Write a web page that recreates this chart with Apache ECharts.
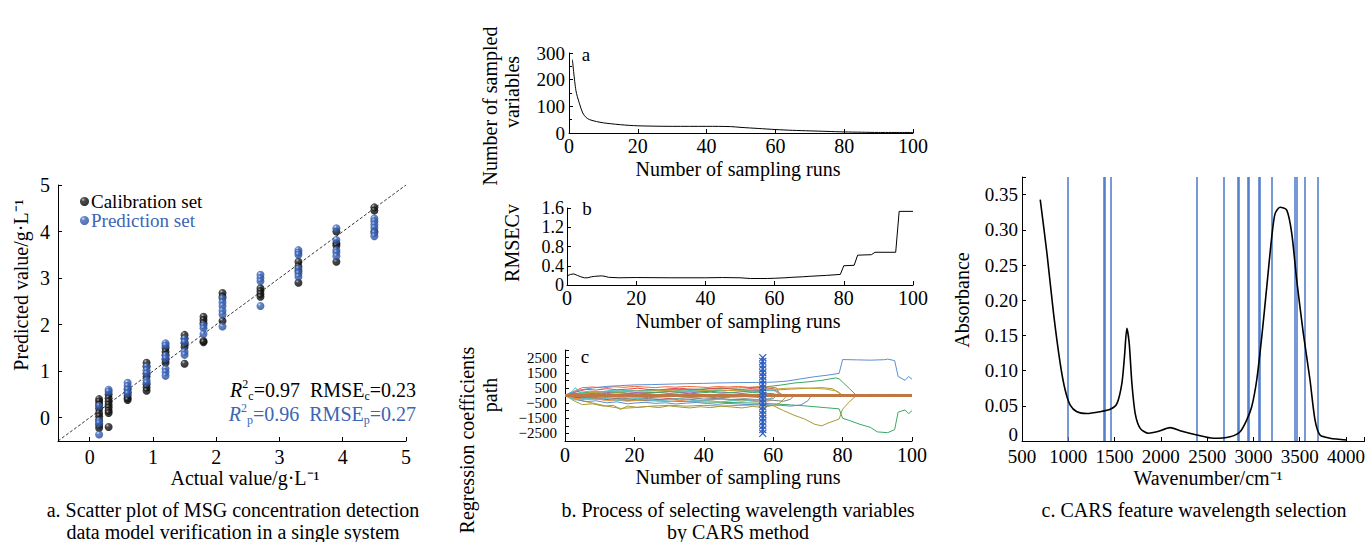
<!DOCTYPE html>
<html><head><meta charset="utf-8">
<script src="https://cdn.jsdelivr.net/npm/echarts@6.0.0/dist/echarts.min.js"></script>
<style>html,body{margin:0;padding:0;background:#fff}#c{width:1368px;height:542px}</style>
</head><body><div id="c"></div>
<script>
// ---------- Panel a: scatter ----------
const A_COLS = [0.15, 0.3, 0.6, 0.9, 1.2, 1.5, 1.8, 2.1, 2.7, 3.3, 3.9, 4.5];
const CAL_Y = [
  [0.40,0.35,0.28,0.20,0.10,0.03,-0.05,-0.15,-0.22],
  [0.50,0.42,0.35,0.28,0.22,0.15,0.10,-0.20],
  [0.62,0.55,0.48,0.42,0.38],
  [1.18,1.10,0.95,0.88,0.72,0.65,0.58],
  [1.50,1.42,1.35,1.25,1.18],
  [1.78,1.70,1.60,1.52,1.16],
  [2.17,2.10,2.03,1.65,1.62],
  [2.68,2.60,2.08],
  [2.78,2.72,2.66,2.60],
  [3.35,3.25,3.15,2.90],
  [4.00,3.75,3.70,3.35],
  [4.52,4.45,4.00]
];
const PRED_Y = [
  [0.25,-0.07,-0.12,-0.36],
  [0.60,0.56],
  [0.75,0.68,0.60,0.52],
  [1.10,1.02,0.95,0.80,0.75],
  [1.60,1.55,1.33,1.27,1.05,0.98,0.90],
  [1.70,1.62,1.42,1.35],
  [1.98,1.92,1.80],
  [2.56,2.48,2.40,2.30,2.22,1.96],
  [3.07,3.00,2.93,2.40],
  [3.60,3.55,3.50,3.20,3.10,3.03],
  [4.07,3.82,3.60,3.55,3.47],
  [4.28,4.22,4.15,4.08,3.97,3.90]
];
const DIAG = [[-0.5,-0.5],[5,5]];

// ---------- Panel b (top): number of sampled variables ----------
const B1_RUNS = [1,2,3,4,5,6,8,10,12,15,20,30,40,47,50,55,60,65,70,75,80,85,90,100];
const B1_VARS = [275,160,112,75,58,50,43,38,35,31,27,25,25,24,21,17,13,10,8,6,4,3,2,2];

// ---------- Panel b (middle): RMSECV ----------
const B2_RUNS = [0,1,2,3,4,5,6,7,8,10,11,12,15,20,30,40,45,50,53,58,60,63,65,68,70,75,79,80,83,84,88,89,95,96,100];
const B2_RMSECV = [0.19,0.22,0.23,0.20,0.17,0.15,0.15,0.17,0.18,0.19,0.18,0.16,0.15,0.155,0.15,0.15,0.155,0.15,0.135,0.135,0.14,0.15,0.16,0.17,0.18,0.20,0.22,0.40,0.41,0.62,0.63,0.68,0.68,1.53,1.53];

// ---------- Panel b (bottom): regression coefficient paths ([run, coefficient]) ----------
const P01 = [[0,0],[2,150],[4,350],[8,500],[12,600],[16,650],[20,700],[25,720],[30,750],[35,780],[40,800],[45,830],[50,850],[55,860],[60,880],[64,950],[68,1100],[72,1240],[76,1350],[79,1460],[80,2370],[84,2350],[88,2330],[92,2360],[93,2400],[95,2300],[96,1260],[98,1000],[99,1250],[100,1080]];
const P02 = [[0,0],[2,80],[5,180],[8,220],[12,260],[16,300],[20,320],[25,350],[30,380],[35,400],[40,430],[45,470],[50,500],[55,540],[58,580],[62,680],[66,820],[70,900],[74,1000],[78,1160],[79,1100],[80,880],[82,450],[84,0]];
const P03 = [[0,0],[3,-100],[8,-200],[15,-300],[25,-350],[35,-400],[45,-450],[55,-500],[60,-550],[65,-620],[70,-700],[75,-800],[79,-880],[80,-1500],[82,-1650],[85,-1900],[88,-2100],[90,-2400],[93,-2450],[95,-2250],[96,-1100],[98,-950],[99,-1200],[100,-1000]];
const P04 = [[0,0],[4,-300],[8,-500],[12,-700],[16,-850],[20,-800],[25,-700],[30,-650],[35,-700],[40,-650],[45,-700],[50,-650],[55,-620],[60,-670],[63,-1000],[66,-1300],[69,-1550],[72,-1900],[74,-2000],[76,-1800],[79,-1550],[80,-900],[82,-400],[84,0]];
const P05 = [[0,0],[4,-200],[8,-100],[12,0],[16,100],[20,150],[25,200],[30,250],[35,300],[40,280],[45,350],[50,300],[55,320],[60,350],[65,420],[70,480],[74,520],[77,450],[79,200],[80,0]];
const P06 = [[0,0],[3,320],[5,520],[8,560],[11,500],[14,580],[17,540],[20,600],[23,560],[26,520],[29,580],[32,550],[35,600],[38,570],[41,530],[44,590],[47,560],[50,600],[53,540],[56,580],[59,560],[61,500],[62,0]];
const P07 = [[0,0],[3,-120],[6,-200],[9,-150],[12,-260],[15,-200],[18,-300],[21,-240],[24,-320],[27,-260],[30,-200],[33,-300],[36,-250],[39,-330],[42,-280],[45,-220],[48,-300],[51,-260],[54,-320],[57,-280],[60,-200],[61,0]];
const P08 = [[0,0],[2,250],[3,520],[4,200],[7,280],[10,240],[13,330],[16,280],[19,350],[22,300],[25,380],[28,320],[31,280],[34,360],[37,320],[40,270],[43,340],[46,300],[49,380],[52,330],[55,290],[58,350],[61,300],[63,0]];
const P09 = [[0,0],[3,80],[6,150],[9,120],[12,200],[15,170],[18,240],[21,190],[24,150],[27,220],[30,260],[33,200],[36,170],[39,240],[42,280],[45,220],[48,180],[51,250],[54,300],[57,260],[59,0]];
const P10 = [[0,0],[3,-250],[6,-400],[9,-350],[12,-480],[15,-420],[18,-550],[20,-500],[23,-450],[26,-520],[29,-480],[32,-560],[35,-500],[38,-460],[41,-530],[44,-580],[47,-520],[50,-560],[53,-600],[56,-560],[59,-620],[62,-650],[65,-700],[68,-620],[70,-350],[71,0]];
const P11 = [[0,0],[3,-400],[5,-600],[8,-550],[11,-700],[14,-650],[16,-920],[18,-700],[21,-780],[24,-720],[27,-800],[30,-680],[33,-760],[36,-820],[39,-740],[42,-800],[45,-700],[48,-760],[51,-820],[54,-720],[57,-780],[60,-650],[62,-500],[64,0]];
const P12 = [[0,0],[4,-100],[8,-180],[12,-140],[16,-220],[20,-160],[24,-200],[28,-260],[32,-200],[36,-150],[40,-230],[44,-190],[48,-260],[52,-210],[56,-280],[60,-320],[63,-380],[65,-250],[66,0]];
const P13 = [[0,0],[3,150],[6,100],[9,180],[12,120],[15,200],[18,140],[21,90],[24,160],[27,200],[30,130],[33,180],[36,110],[39,170],[42,220],[45,150],[48,190],[51,130],[54,200],[57,160],[60,120],[62,0]];
const P14 = [[0,0],[3,-200],[6,-280],[9,-220],[12,-340],[15,-300],[18,-380],[21,-320],[24,-260],[27,-350],[30,-400],[33,-330],[36,-380],[39,-300],[42,-360],[45,-420],[48,-350],[51,-300],[54,-380],[57,-420],[59,-350],[60,0]];
const P15 = [[0,0],[3,220],[6,400],[9,360],[12,450],[15,380],[18,420],[21,480],[24,400],[27,360],[30,440],[33,480],[36,420],[39,380],[42,460],[45,500],[48,430],[51,390],[54,470],[57,520],[60,450],[62,0]];
const P16 = [[80,0],[84,40],[88,70],[92,65],[95,70],[96,0]];
const P17 = [[0,0],[3,-300],[6,-180],[9,-260],[12,-200],[15,-320],[18,-260],[21,-200],[24,-300],[27,-350],[30,-280],[33,-220],[36,-300],[39,-360],[42,-290],[45,-240],[48,-320],[51,-380],[54,-300],[57,-260],[60,-200],[61,0]];
const P18 = [[0,0],[4,-50],[8,-100],[12,-60],[16,-120],[20,-80],[24,-140],[28,-100],[32,-60],[36,-130],[40,-90],[44,-150],[48,-110],[52,-70],[56,-130],[58,0]];
const P19 = [[0,0],[4,100],[8,200],[12,260],[16,220],[20,300],[24,280],[28,340],[32,300],[36,260],[40,330],[44,380],[48,320],[52,360],[56,400],[60,420],[64,480],[68,500],[72,460],[75,430],[78,300],[80,0]];
const P20 = [[0,0],[100,0]];
const COEF_PATHS = [P02,P03,P04,P05,P06,P07,P08,P09,P10,P11,P12,P13,P14,P15,P16,P17,P18,P19,P01,P20];
const COEF_COLORS = ['#3aa865','#3aa865','#a59a35','#a59a35','#f06a3a','#e03b3b','#3fc1c9','#9467bd','#5b8fd0','#a59a35','#7f7f7f','#3aa865','#f08a3a','#e34a4a','#3aa865','#4fc6d0','#a070c8','#c8a030','#5b8fd0','#bf7743'];
const OPT_RUN = 57;
const OPT_MARK_Y = [-2500,-2250,-2000,-1750,-1500,-1250,-1000,-750,-500,-250,0,250,500,750,1000,1250,1500,1750,2000,2250,2500];

// ---------- Panel c: spectrum ----------
const WAVENUMBER = [697,770,841,913,967,1021,1093,1201,1345,1453,1525,1579,1607,1633,1658,1687,1723,1777,1866,1957,2100,2208,2389,2568,2748,2856,2928,2982,3036,3090,3144,3198,3234,3288,3360,3414,3468,3539,3611,3665,3719,3827,4007];
const ABSORBANCE = [0.343,0.266,0.181,0.110,0.072,0.051,0.0416,0.039,0.0416,0.045,0.053,0.082,0.120,0.160,0.139,0.082,0.039,0.018,0.011,0.013,0.019,0.0146,0.0085,0.0038,0.0061,0.0132,0.030,0.049,0.087,0.148,0.219,0.290,0.323,0.332,0.328,0.295,0.228,0.153,0.087,0.030,0.0085,0.004,0.0014];
const SELECTED_WN = [989,1388,1399,1460,2389,2680,2827,2845,2935,2946,3061,3072,3198,3442,3464,3550,3694];

// ---------- drawing ----------
const FONT = "'Liberation Serif','Times New Roman',serif";
const BLUE = '#3b65b5';
const chart = echarts.init(document.getElementById('c'), null, {renderer: 'svg'});

function lab(size, margin, formatter, extra) {
  return Object.assign({color: '#000', fontFamily: FONT, fontSize: size, margin: margin, formatter: formatter}, extra || {});
}
function axisBase(gi, min, max, opts) {
  return Object.assign({
    type: 'value', gridIndex: gi, min: min, max: max,
    axisLine: {show: true, onZero: false, lineStyle: {color: '#000', width: 1}},
    axisTick: {show: true, inside: true, length: 4, lineStyle: {color: '#000', width: 1}},
    axisLabel: lab(20, 4),
    splitLine: {show: false}
  }, opts || {});
}

const calData = [], predData = [];
A_COLS.forEach((x, i) => {
  CAL_Y[i].forEach(y => calData.push([x, y]));
  PRED_Y[i].forEach(y => predData.push([x, y]));
});

const blackBall = new echarts.graphic.RadialGradient(0.35, 0.3, 0.7, [
  {offset: 0, color: '#b8b8b8'}, {offset: 0.3, color: '#1e1e1e'}, {offset: 1, color: '#000'}]);
const blueBall = new echarts.graphic.RadialGradient(0.35, 0.3, 0.7, [
  {offset: 0, color: '#d5e0f5'}, {offset: 0.3, color: '#3d68bd'}, {offset: 1, color: '#284b96'}]);

const series = [
  {type: 'line', xAxisIndex: 0, yAxisIndex: 0, data: DIAG, symbol: 'none', silent: true,
   lineStyle: {color: '#000', width: 0.8, type: [3, 2]}, z: 1},
  {name: 'Calibration set', type: 'scatter', xAxisIndex: 0, yAxisIndex: 0, data: calData,
   symbolSize: 8, itemStyle: {color: blackBall}, z: 3},
  {name: 'Prediction set', type: 'scatter', xAxisIndex: 0, yAxisIndex: 0, data: predData,
   symbolSize: 8, itemStyle: {color: blueBall}, z: 4},
  {type: 'line', xAxisIndex: 1, yAxisIndex: 1, data: B1_RUNS.map((r, i) => [r, B1_VARS[i]]),
   symbol: 'none', smooth: 0.3, lineStyle: {color: '#000', width: 1}},
  {type: 'line', xAxisIndex: 2, yAxisIndex: 2, data: B2_RUNS.map((r, i) => [r, B2_RMSECV[i]]),
   symbol: 'none', lineStyle: {color: '#000', width: 1}},
];
COEF_PATHS.forEach((p, i) => {
  const last = i === COEF_PATHS.length - 1;
  series.push({type: 'line', xAxisIndex: 3, yAxisIndex: 3, data: p, symbol: 'none', silent: true,
    lineStyle: {color: COEF_COLORS[i], width: last ? 3 : 1}, z: last ? 5 : 2});
});
series.push({type: 'line', xAxisIndex: 3, yAxisIndex: 3, data: OPT_MARK_Y.map(v => [OPT_RUN, v]),
  symbol: 'path://M0,0L10,10M10,0L0,10', symbolSize: 7, silent: true,
  itemStyle: {color: 'rgba(0,0,0,0)', borderColor: '#2f5fc0', borderWidth: 1.2},
  lineStyle: {color: '#2f5fc0', width: 2}, z: 6});
series.push({type: 'line', xAxisIndex: 4, yAxisIndex: 4, data: WAVENUMBER.map((w, i) => [w, ABSORBANCE[i]]),
  symbol: 'none', smooth: 0.25, lineStyle: {color: '#000', width: 1.6}, z: 5,
  markLine: {silent: true, symbol: 'none', label: {show: false},
    lineStyle: {color: '#4a78c8', width: 1.5, type: 'solid'},
    data: SELECTED_WN.map(w => ({xAxis: w}))}});

const txt = (t, x, y, size, opts) => Object.assign({
  type: 'text', x: x, y: y, silent: true,
  style: Object.assign({text: t, fontFamily: FONT, fontSize: size, fill: '#000', align: 'center', verticalAlign: 'middle'}, (opts && opts.style) || {})
}, (opts && opts.el) || {});
const vtxt = (t, x, y, size) => txt(t, x, y, size, {el: {rotation: Math.PI / 2}});

const richStyle = (color) => ({
  ri: {fontFamily: FONT, fontSize: 20, fontStyle: 'italic', fill: color, lineHeight: 24, verticalAlign: 'middle'},
  t: {fontFamily: FONT, fontSize: 20, fill: color, lineHeight: 24, verticalAlign: 'middle'},
  sup: {fontFamily: FONT, fontSize: 12, fill: color, lineHeight: 14, verticalAlign: 'top'},
  sub: {fontFamily: FONT, fontSize: 12, fill: color, lineHeight: 11, verticalAlign: 'bottom'}
});

const option = {
  backgroundColor: '#fff',
  animation: false,
  grid: [
    {left: 58, top: 185, width: 348, height: 256},
    {left: 569, top: 53, width: 344, height: 80},
    {left: 567, top: 208, width: 346, height: 77},
    {left: 565, top: 350, width: 347, height: 91},
    {left: 1022, top: 177, width: 343, height: 264}
  ],
  xAxis: [
    axisBase(0, -0.5, 5, {splitNumber: 5, axisLabel: lab(20, 6, v => Number.isInteger(v) ? String(v) : '')}),
    axisBase(1, 0, 100, {interval: 20, axisLabel: lab(20, 3)}),
    axisBase(2, 0, 100, {interval: 20, axisLabel: lab(20, 3)}),
    axisBase(3, 0, 100, {interval: 20, axisLabel: lab(20, 4)}),
    axisBase(4, 500, 4200, {interval: 500, axisLabel: lab(19, 6, v => v > 4000 ? '' : String(v))})
  ],
  yAxis: [
    axisBase(0, -0.5, 5, {splitNumber: 5, axisLabel: lab(20, 8, v => Number.isInteger(v) ? String(v) : '')}),
    axisBase(1, 0, 300, {interval: 100, axisLabel: lab(19, 4),
      minorTick: {show: true, splitNumber: 2, length: 3, lineStyle: {color: '#000'}}}),
    axisBase(2, 0, 1.6, {interval: 0.4, axisLabel: lab(18, 3, v => v === 0 ? '0' : v.toFixed(1))}),
    axisBase(3, -3000, 3000, {interval: 500, axisLabel: lab(15, 8,
      v => (Math.abs(v) % 1000 === 500) ? (v < 0 ? '\u2212' + (-v) : String(v)) : '')}),
    axisBase(4, 0, 0.375, {interval: 0.05, axisLabel: lab(19, 4,
      v => v === 0 ? '{z|0}' : (v > 0.36 ? '' : v.toFixed(2)),
      {rich: {z: {fontFamily: FONT, fontSize: 19, color: '#000', padding: [0, 0, 14, 0]}}})})
  ],
  legend: {
    left: 80, top: 192, padding: 0, orient: 'vertical', itemGap: 0, itemWidth: 9, itemHeight: 9, icon: 'circle',
    selectedMode: false,
    textStyle: {fontFamily: FONT, fontSize: 19, padding: [0, 0, 0, -3]},
    data: [{name: 'Calibration set', textStyle: {color: '#000'}},
           {name: 'Prediction set', textStyle: {color: BLUE}}]
  },
  series: series,
  graphic: [
    // panel a
    vtxt('Predicted value/g\u00b7L\u207b\u00b9', 21, 285, 20),
    txt('Actual value/g\u00b7L\u207b\u00b9', 245, 478, 20),
    txt('a. Scatter plot of MSG concentration detection', 233, 510, 20),
    txt('data model verification in a single system', 233, 532, 20),
    {type: 'text', x: 416, y: 390, silent: true, style: {
      text: '{ri|R}{sup|2}{sub|c}{t|=0.97  RMSE}{sub|c}{t|=0.23}', align: 'right', verticalAlign: 'middle',
      rich: richStyle('#000')}},
    {type: 'text', x: 416, y: 414, silent: true, style: {
      text: '{ri|R}{sup|2}{sub|p}{t|=0.96  RMSE}{sub|p}{t|=0.27}', align: 'right', verticalAlign: 'middle',
      rich: richStyle(BLUE)}},
    // panel b
    vtxt('Number of sampled', 490, 106, 20),
    vtxt('variables', 512, 92, 20),
    txt('Number of sampling runs', 738, 169, 20),
    vtxt('RMSECv', 512, 243, 20),
    txt('Number of sampling runs', 738, 321, 20),
    vtxt('Regression coefficients', 467, 440, 20),
    vtxt('path', 490, 395, 20),
    txt('Number of sampling runs', 738, 477, 20),
    txt('a', 586, 54, 19),
    txt('b', 587, 208, 19),
    txt('c', 585, 356, 19),
    txt('b. Process of selecting wavelength variables', 738, 510, 20),
    txt('by CARS method', 738, 532, 20),
    // panel c
    vtxt('Absorbance', 962, 300, 20),
    txt('Wavenumber/cm\u207b\u00b9', 1208, 478, 20),
    txt('c. CARS feature wavelength selection', 1194, 510, 20)
  ]
};
chart.setOption(option);
</script></body></html>
